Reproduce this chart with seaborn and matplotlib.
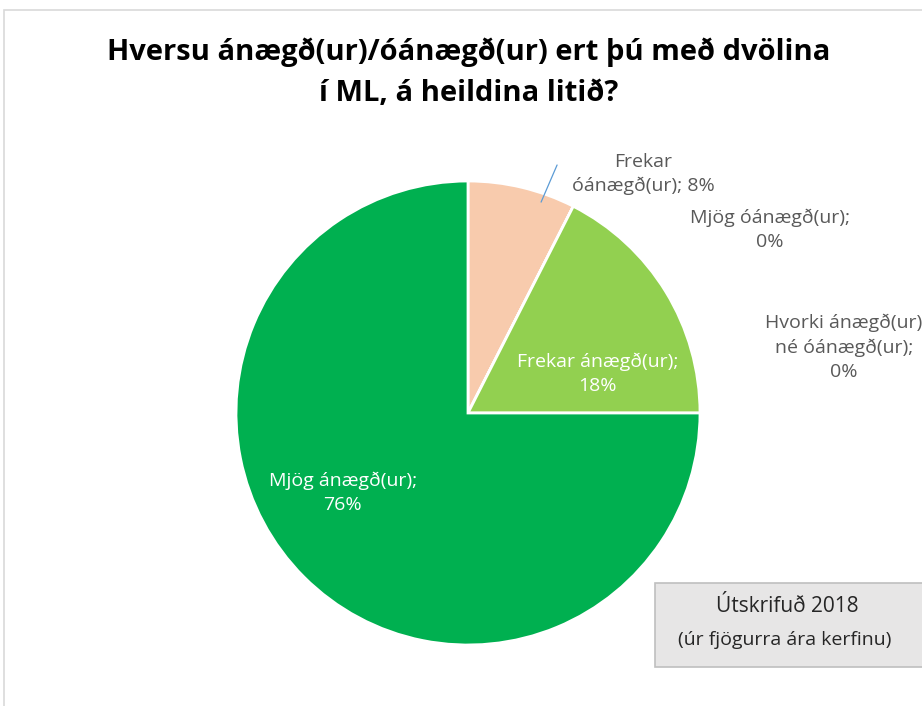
import matplotlib
matplotlib.use("Agg")
import matplotlib.pyplot as plt
import seaborn as sns
from matplotlib.patches import Rectangle

# Data (slice order: clockwise from 12 o'clock)
categories = ["Frekar\nóánægð(ur); 8%", "Mjög óánægð(ur);\n0%",
              "Hvorki ánægð(ur)\nné óánægð(ur);\n0%", "Frekar ánægð(ur);\n18%",
              "Mjög ánægð(ur);\n76%"]
shares = [7.5, 0, 0, 17.5, 75]          # slice sizes as drawn
colors = ["#F8CBAD", "#C00000", "#FFC000", "#92D050", "#00B050"]

title = "Hversu ánægð(ur)/óánægð(ur) ert þú með dvölina\ní ML, á heildina litið?"
box_lines = ["Útskrifuð 2018", "(úr fjögurra ára kerfinu)"]

sns.set_theme(style="white")
plt.rcParams['font.family'] = ['Open Sans', 'DejaVu Sans']

fig = plt.figure(figsize=(9.22, 7.06), dpi=100)

# outer chart-area frame (cropped at right/bottom)
fig.patches.append(Rectangle((4 / 922, -0.05), 1.0, 1 - 10 / 706 + 0.05,
                             transform=fig.transFigure, fill=False,
                             edgecolor="#D9D9D9", linewidth=1.2))

ax = fig.add_axes([236 / 922, (706 - 413 - 232) / 706, 464 / 922, 464 / 706])
wedges, _ = ax.pie(shares, colors=colors, startangle=90, counterclock=False,
                   radius=1.0, wedgeprops=dict(edgecolor="white", linewidth=2))
ax.set_xlim(-1, 1)
ax.set_ylim(-1, 1)
ax.set_aspect("equal")
ax.axis("off")

# data labels (Excel-like placement)
label_pos = [(0.754, 1.03), (1.30, 0.789), (1.62, 0.284), (0.56, 0.17), (-0.54, -0.345)]
label_col = ["#595959", "#595959", "#595959", "white", "white"]
for text, (x, y), c in zip(categories, label_pos, label_col):
    ax.text(x, y, text, ha="center", va="center", fontsize=14, color=c,
            linespacing=1.45, clip_on=False)

# leader line for the small slice
ax.plot([0.315, 0.384], [0.909, 1.069], color="#5B9BD5", linewidth=0.9, clip_on=False)

fig.text(469 / 922, 1 - 73 / 706, title, ha="center", va="center", fontsize=21,
         fontweight="bold", color="black", linespacing=1.55)

# subtitle box
fig.patches.append(Rectangle((655 / 922, 1 - 667 / 706), 0.4, 84 / 706,
                             transform=fig.transFigure, facecolor="#E7E6E6",
                             edgecolor="#BFBFBF", linewidth=1.2))
fig.text(787 / 922, 1 - 607 / 706, box_lines[0], ha="center", va="center",
         fontsize=15, color="#262626")
fig.text(785 / 922, 1 - 640 / 706, box_lines[1], ha="center", va="center",
         fontsize=14, color="#262626")

fig.savefig("out.png", dpi=100)
